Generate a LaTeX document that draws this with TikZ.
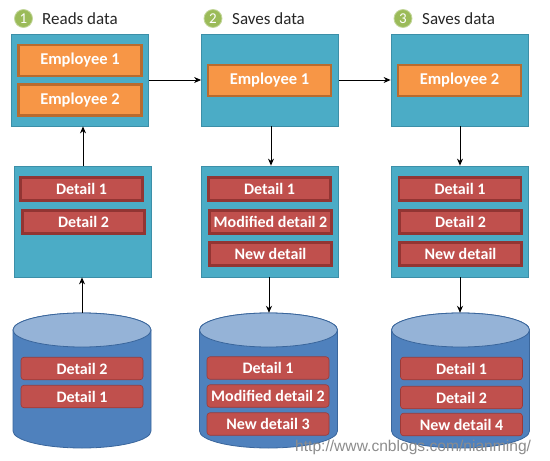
\documentclass[tikz,border=0pt]{standalone}
\usepackage{fontspec}
\setmainfont{Carlito}
\newfontfamily\wmfont{Liberation Sans}
\usetikzlibrary{arrows.meta}
\definecolor{tealbox}{HTML}{4BACC6}
\definecolor{tealedge}{HTML}{3C8FA8}
\definecolor{orangefill}{HTML}{F79646}
\definecolor{orangeedge}{HTML}{B96B2E}
\definecolor{redfill}{HTML}{C0504D}
\definecolor{rededge}{HTML}{923533}
\definecolor{cylbody}{HTML}{4F81BD}
\definecolor{cyledge}{HTML}{3A669C}
\definecolor{cyltop}{HTML}{95B3D7}
\definecolor{greenfill}{HTML}{9BBB59}
\definecolor{greenedge}{HTML}{C3D69B}
\definecolor{wmgray}{HTML}{8C8C8C}
\tikzset{
  panel/.style={draw=tealedge, fill=tealbox, line width=0.8pt, minimum width=137pt, minimum height=92pt, inner sep=0pt},
  panelb/.style={panel, minimum height=111pt},
  emp/.style={draw=orangeedge, fill=orangefill, line width=2.6pt, minimum width=123pt, minimum height=31pt, inner sep=0pt, text=white, font=\bfseries\fontsize{16.5}{18}\selectfont},
  det/.style={draw=rededge, fill=redfill, line width=2.6pt, minimum width=122pt, minimum height=23.5pt, inner sep=0pt, text=white, font=\bfseries\fontsize{16}{18}\selectfont},
  cdet/.style={draw=rededge!80!redfill, fill=redfill, line width=0.6pt, rounded corners=3pt, minimum width=122pt, minimum height=22.5pt, inner sep=0pt, text=white, font=\bfseries\fontsize{16}{18}\selectfont},
  num/.style={circle, draw=greenedge, fill=greenfill, line width=0.8pt, minimum size=18pt, inner sep=0pt, text=white, font=\fontsize{15}{16}\selectfont},
  ttl/.style={anchor=west, inner sep=0pt, text=black!85, font=\fontsize{17}{19}\selectfont},
  arr/.style={-{Stealth[length=7pt,width=6pt]}, line width=0.9pt, black},
  cylshape/.style={draw=cyledge, line width=0.8pt},
  cylanchor/.style={minimum width=138pt, minimum height=135pt, inner sep=0pt}
}
\begin{document}
\begin{tikzpicture}[x=1pt,y=-1pt]
\useasboundingbox (0,0) rectangle (550,461);

% titles
\node[num] (n1) at (23.5,18.5) {1};
\node[ttl] (t1lbl) at (42,18.5) {Reads data};
\node[num] (n2) at (213,18.5) {2};
\node[ttl] (t2lbl) at (232,18.5) {Saves data};
\node[num] (n3) at (403,18.5) {3};
\node[ttl] (t3lbl) at (422,18.5) {Saves data};

% top panels
\node[panel] (p1) at (80,80) {};
\node[panel] (p2) at (270,80) {};
\node[panel] (p3) at (459.5,80) {};
\node[emp] (e11) at (80,60.5) {Employee 1};
\node[emp] (e12) at (80,100) {Employee 2};
\node[emp] (e21) at (269.5,80.5) {Employee 1};
\node[emp] (e32) at (459.5,80.5) {Employee 2};

% middle panels
\node[panelb] (m1) at (82.5,221.5) {};
\node[panelb] (m2) at (270,221.5) {};
\node[panelb] (m3) at (460,221.5) {};
\node[det] (d11) at (81.5,189) {Detail 1};
\node[det] (d12) at (83.5,222) {Detail 2};
\node[det] (d21) at (269.5,189) {Detail 1};
\node[det] (d22) at (270.5,222) {Modified detail 2};
\node[det] (d23) at (270.5,254) {New detail};
\node[det] (d31) at (460,189) {Detail 1};
\node[det] (d32) at (460.5,222) {Detail 2};
\node[det] (d33) at (460.5,254) {New detail};

% cylinders
\foreach \cx/\nm in {82/c1, 268.5/c2, 460.5/c3}{
  \draw[cylshape, fill=cylbody] (\cx-69,330) -- (\cx-69,431)
     arc[start angle=180, end angle=360, x radius=69pt, y radius=17pt]
     -- (\cx+69,330) arc[start angle=0, end angle=180, x radius=69pt, y radius=17pt] -- cycle;
  \draw[cylshape, fill=cyltop] (\cx,330) ellipse[x radius=69pt, y radius=17pt];
  \node[cylanchor] (\nm) at (\cx,380.5) {};
}
\node[cdet] (s11) at (82,368.5) {Detail 2};
\node[cdet] (s12) at (82,396.5) {Detail 1};
\node[cdet] (s21) at (268,368) {Detail 1};
\node[cdet] (s22) at (268,396) {Modified detail 2};
\node[cdet] (s23) at (268,424) {New detail 3};
\node[cdet] (s31) at (461.5,368.5) {Detail 1};
\node[cdet] (s32) at (461.5,397.5) {Detail 2};
\node[cdet] (s33) at (461.5,424.5) {New detail 4};

% connectors
\draw[arr] (p1) -- (p2);
\draw[arr] (p2) -- (p3);
\draw[arr] (c1.north) -- (m1.south -| c1.north);
\draw[arr] (m1.north -| 83,0) -- (p1.south -| 83,0);
\draw[arr] (p2.south -| 271,0) -- (m2.north -| 271,0);
\draw[arr] (m2.south -| 269,0) -- (c2.north -| 269,0);
\draw[arr] (p3.south -| 460,0) -- (m3.north -| 460,0);
\draw[arr] (m3.south -| 460,0) -- (c3.north -| 460,0);

% watermark
\node[anchor=west, inner sep=0pt, text=wmgray, font=\wmfont\fontsize{15.6}{17}\selectfont] (wm) at (295,447) {http://www.cnblogs.com/nianming/};
\end{tikzpicture}
\end{document}
